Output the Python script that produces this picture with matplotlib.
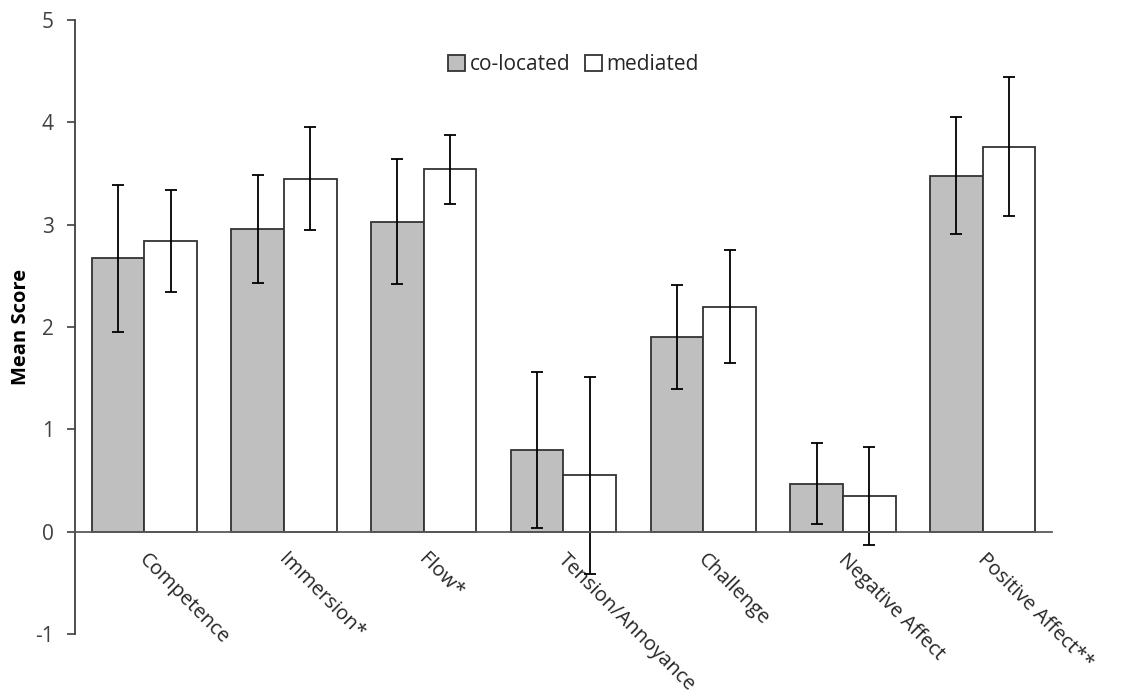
import numpy as np
import matplotlib.pyplot as plt
import matplotlib.transforms as mtransforms

plt.rcParams['font.family'] = ['Open Sans', 'DejaVu Sans']
plt.rcParams['axes.unicode_minus'] = False

categories = ['Competence', 'Immersion*', 'Flow*', 'Tension/Annoyance',
              'Challenge', 'Negative Affect', 'Positive Affect**']
colocated = [2.67, 2.96, 3.03, 0.80, 1.90, 0.47, 3.48]
colocated_err = [0.72, 0.53, 0.61, 0.76, 0.51, 0.40, 0.57]
mediated = [2.84, 3.45, 3.54, 0.55, 2.20, 0.35, 3.76]
mediated_err = [0.50, 0.50, 0.34, 0.96, 0.55, 0.48, 0.68]

fig = plt.figure(figsize=(11.22, 6.96), dpi=100)
ax = fig.add_axes([0.0664, 0.0891, 0.8716, 0.8822])

x = np.arange(len(categories))
width = 0.377
edge = '#333333'
err_kw = dict(ecolor='black', elinewidth=1.3, capsize=4.5, capthick=1.3)

ax.bar(x - width / 2, colocated, width, yerr=colocated_err, color='#bfbfbf',
       edgecolor=edge, linewidth=1.3, label='co-located', error_kw=err_kw, zorder=2)
ax.bar(x + width / 2, mediated, width, yerr=mediated_err, color='white',
       edgecolor=edge, linewidth=1.3, label='mediated', error_kw=err_kw, zorder=2)

ax.set_xlim(-0.5, len(categories) - 0.5)
ax.set_ylim(-1, 5)
ax.set_yticks(range(-1, 6))

for s in ['top', 'right']:
    ax.spines[s].set_visible(False)
ax.spines['bottom'].set_position(('data', 0))
ax.spines['bottom'].set_color('#595959')
ax.spines['bottom'].set_linewidth(1.3)
ax.spines['bottom'].set_zorder(3)
ax.spines['left'].set_color('#404040')
ax.spines['left'].set_linewidth(1.3)

ax.tick_params(axis='y', direction='out', length=6, width=1.2, color='#404040',
               labelsize=15, labelcolor='#404040', pad=9)
ax.tick_params(axis='x', length=0, labelsize=14.5, labelcolor='#262626', pad=13)
ax.set_xticks(x)
ax.set_xticklabels(categories, rotation=-45, ha='left', va='top', rotation_mode='anchor')
# nudge the slanted labels a little to the right
offset = mtransforms.ScaledTranslation(5 / 100, 0, fig.dpi_scale_trans)
for lbl in ax.get_xticklabels():
    lbl.set_transform(lbl.get_transform() + offset)

ax.set_ylabel('Mean Score', fontsize=14.5, fontweight='bold')
ax.yaxis.set_label_coords(-0.044, 0.5)

ax.legend(loc='upper center', bbox_to_anchor=(0.51, 0.975), ncol=2, frameon=False,
          fontsize=15, handlelength=0.85, handleheight=0.85, handletextpad=0.2,
          columnspacing=0.7, labelcolor='#262626')

fig.savefig('out.png', dpi=100)
